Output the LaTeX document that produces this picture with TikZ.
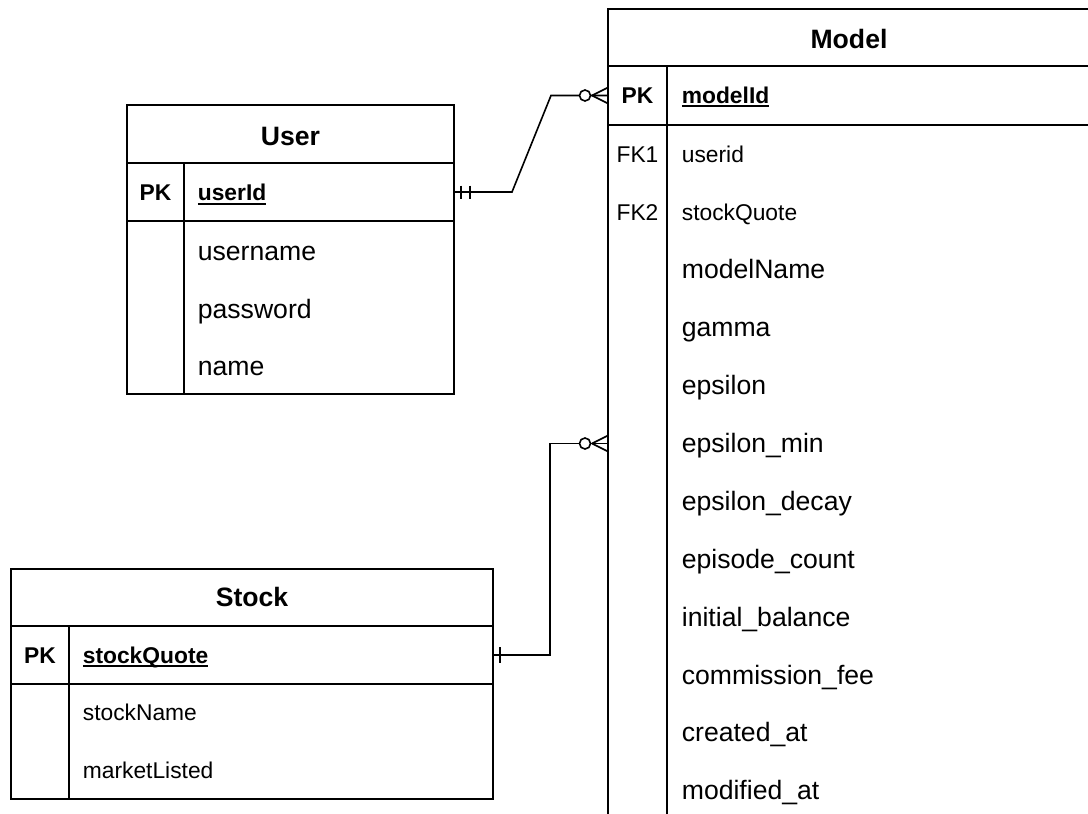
\documentclass[tikz,border=0pt]{standalone}
\usepackage{fontspec}
\setmainfont{Liberation Sans}
\usetikzlibrary{calc}
\newcommand\bigtxt{\fontsize{26.6pt}{30pt}\selectfont}
\newcommand\smalltxt{\fontsize{22.8pt}{26pt}\selectfont}
% primary key names: text with a thick rule under it
\newcommand\keyname[1]{\setbox0\hbox{#1}\rlap{\raisebox{-4.2pt}{\rule{\wd0}{2pt}}}\box0}
\begin{document}
\begin{tikzpicture}[x=1pt,y=-1pt,line width=1.7pt,
  frame/.style={draw, rectangle, inner sep=0pt, outer sep=0pt},
  ttl/.style={inner sep=0pt, anchor=base, font=\bfseries\bigtxt},
  keycol/.style={inner sep=0pt, anchor=base, font=\smalltxt},
  pkcol/.style={inner sep=0pt, anchor=base, font=\bfseries\smalltxt},
  fld/.style={inner sep=0pt, anchor=base west, font=\bigtxt},
  sfld/.style={inner sep=0pt, anchor=base west, font=\smalltxt},
  pkfld/.style={inner sep=0pt, anchor=base west, font=\bfseries\smalltxt},
  link/.style={line width=1.6pt},
  endmark/.style={line width=1.6pt},
]
\useasboundingbox (0,0) rectangle (1088,814);
\fill[white] (0,0) rectangle (1088,814);
\clip (0,0) rectangle (1088,814);

% ---------- User ----------
\node[frame, minimum width=327pt, minimum height=58pt] (user-head) at (290.5,134) {};
\node[frame, minimum width=327pt, minimum height=58pt] (user-pk) at (290.5,192) {};
\node[frame, minimum width=327pt, minimum height=173pt] (user-body) at (290.5,307.5) {};
\draw ($(user-pk.north west)+(57,0)$) -- ($(user-body.south west)+(57,0)$);
\node[ttl] (user-title) at (290.5,145) {User};
\node[pkcol] (user-k0) at (155.5,200.5) {PK};
\node[pkfld] (user-f0) at (197,200.5) {\keyname{userId}};
\node[fld] (user-f1) at (197,260) {username};
\node[fld] (user-f2) at (197,318) {password};
\node[fld] (user-f3) at (197,375.5) {name};

% ---------- Stock ----------
\node[frame, minimum width=482pt, minimum height=57pt] (stock-head) at (252,597.5) {};
\node[frame, minimum width=482pt, minimum height=58pt] (stock-pk) at (252,655) {};
\node[frame, minimum width=482pt, minimum height=115pt] (stock-body) at (252,741.5) {};
\draw ($(stock-pk.north west)+(58,0)$) -- ($(stock-body.south west)+(58,0)$);
\node[ttl] (stock-title) at (252,606.5) {Stock};
\node[pkcol] (stock-k0) at (40,663) {PK};
\node[pkfld] (stock-f0) at (82,663) {\keyname{stockQuote}};
\node[sfld] (stock-f1) at (82,720.5) {stockName};
\node[sfld] (stock-f2) at (82,778) {marketListed};

% ---------- Model ----------
\node[frame, minimum width=482pt, minimum height=57pt] (model-head) at (849,37.5) {};
\node[frame, minimum width=482pt, minimum height=59pt] (model-pk) at (849,95.5) {};
\node[frame, minimum width=482pt, minimum height=715pt] (model-body) at (849,482.5) {};
\draw ($(model-pk.north west)+(59,0)$) -- ($(model-body.south west)+(59,0)$);
\node[ttl] (model-title) at (849,48) {Model};
\node[pkcol] (model-k0) at (637.5,103) {PK};
\node[pkfld] (model-f0) at (681,103) {\keyname{modelId}};
\node[keycol] (model-k1) at (637.5,162) {FK1};
\node[keycol] (model-k2) at (637.5,220) {FK2};
\node[sfld] (model-f1) at (681,162) {userid};
\node[sfld] (model-f2) at (681,220) {stockQuote};
\node[fld] (model-f3) at (681,278.3) {modelName};
\node[fld] (model-f4) at (681,336.2) {gamma};
\node[fld] (model-f5) at (681,394.6) {epsilon};
\node[fld] (model-f6) at (681,452.5) {epsilon\_min};
\node[fld] (model-f7) at (681,510.9) {epsilon\_decay};
\node[fld] (model-f8) at (681,568.3) {episode\_count};
\node[fld] (model-f9) at (681,626.5) {initial\_balance};
\node[fld] (model-f10) at (681,684) {commission\_fee};
\node[fld] (model-f11) at (681,741.7) {created\_at};
\node[fld] (model-f12) at (681,799) {modified\_at};

\coordinate (model-in1) at (model-pk.west);
\coordinate (model-in2) at ($(model-body.west |- model-f6.base west)+(0,-9)$);

% ---------- User (one, mandatory) to Model (zero or many) ----------
\draw[link] (user-pk.east) -- ($(user-pk.east)+(58,0)$)
  -- ($(model-in1)+(-57,0)$) -- (model-in1);
\draw[endmark] ($(user-pk.east)+(7,-6.5)$) -- ($(user-pk.east)+(7,6.5)$);
\draw[endmark] ($(user-pk.east)+(16,-6.5)$) -- ($(user-pk.east)+(16,6.5)$);
\draw[endmark] ($(model-in1)+(-16,0)$) -- ($(model-in1)+(0,-8)$);
\draw[endmark] ($(model-in1)+(-16,0)$) -- ($(model-in1)+(0,8)$);
\draw[endmark, fill=white] ($(model-in1)+(-23,0)$) circle[radius=5.5pt];

% ---------- Stock (one) to Model (zero or many) ----------
\draw[link] (stock-pk.east) -- ($(stock-pk.east)+(57,0)$)
  -- ($(model-in2)+(-58,0)$) -- (model-in2);
\draw[endmark] ($(stock-pk.east)+(7,-8)$) -- ($(stock-pk.east)+(7,8)$);
\draw[endmark] ($(model-in2)+(-16,0)$) -- ($(model-in2)+(0,-8)$);
\draw[endmark] ($(model-in2)+(-16,0)$) -- ($(model-in2)+(0,8)$);
\draw[endmark, fill=white] ($(model-in2)+(-23,0)$) circle[radius=5.5pt];
\end{tikzpicture}
\end{document}
